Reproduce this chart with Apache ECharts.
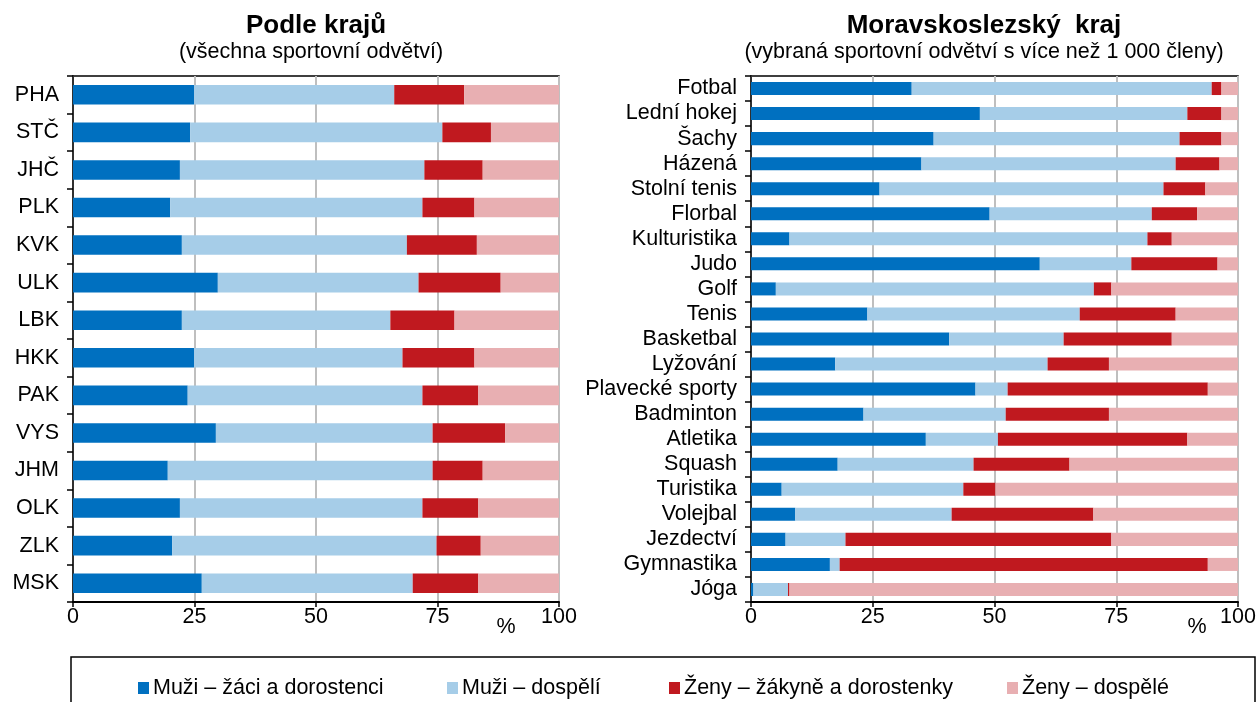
<!DOCTYPE html>
<html>
<head>
<meta charset="utf-8">
<script src="https://cdn.jsdelivr.net/npm/echarts@6/dist/echarts.min.js"></script>
<style>
  html, body { margin: 0; padding: 0; background: #fff; }
  #chart { width: 1260px; height: 702px; }
</style>
</head>
<body>
<div id="chart"></div>
<script>
// kraje (levý graf)
var kraje = ["PHA", "STČ", "JHČ", "PLK", "KVK", "ULK", "LBK", "HKK", "PAK", "VYS", "JHM", "OLK", "ZLK", "MSK"];
var krajMuziZaci = [24.9, 24.1, 22.0, 20.0, 22.4, 29.8, 22.4, 24.9, 23.6, 29.4, 19.5, 22.0, 20.4, 26.5];
var krajMuziDosp = [41.2, 51.9, 50.3, 51.9, 46.3, 41.3, 42.9, 42.9, 48.3, 44.6, 54.5, 49.9, 54.4, 43.4];
var krajZenyZac = [14.4, 10.0, 12.0, 10.7, 14.4, 16.9, 13.2, 14.8, 11.5, 14.9, 10.3, 11.5, 9.1, 13.5];
var krajZenyDosp = [19.5, 14.0, 15.7, 17.4, 16.9, 12.0, 21.5, 17.4, 16.6, 11.1, 15.7, 16.6, 16.1, 16.6];

// sporty MSK (pravý graf)
var sporty = ["Fotbal", "Lední hokej", "Šachy", "Házená", "Stolní tenis", "Florbal", "Kulturistika", "Judo", "Golf", "Tenis",
  "Basketbal", "Lyžování", "Plavecké sporty", "Badminton", "Atletika", "Squash", "Turistika", "Volejbal", "Jezdectví", "Gymnastika", "Jóga"];
var sportMuziZaci = [33.0, 47.0, 37.5, 35.0, 26.4, 49.0, 7.9, 59.3, 5.1, 23.9, 40.7, 17.3, 46.1, 23.1, 35.9, 17.8, 6.3, 9.1, 7.1, 16.2, 0.5];
var sportMuziDosp = [61.6, 42.6, 50.5, 52.2, 58.3, 33.3, 73.5, 18.8, 65.3, 43.6, 23.5, 43.6, 6.6, 29.2, 14.8, 27.9, 37.3, 32.1, 12.3, 2.0, 7.1];
var sportZenyZac = [2.0, 7.0, 8.6, 9.0, 8.6, 9.3, 5.0, 17.7, 3.6, 19.7, 22.2, 12.6, 41.1, 21.2, 38.9, 19.7, 6.6, 29.1, 54.6, 75.6, 0.3];
var sportZenyDosp = [3.4, 3.4, 3.4, 3.8, 6.7, 8.4, 13.6, 4.2, 26.0, 12.8, 13.6, 26.5, 6.2, 26.5, 10.4, 34.6, 49.8, 29.7, 26.0, 6.2, 92.1];

var nazvy = ["Muži – žáci a dorostenci", "Muži – dospělí", "Ženy – žákyně a dorostenky", "Ženy – dospělé"];
var barvy = ["#0070C0", "#A6CDE8", "#C0191F", "#E8AFB2"];
var xTicks = [0, 25, 50, 75, 100];

var chart = echarts.init(document.getElementById("chart"));
var FONT = "Liberation Sans, Arial, sans-serif";
var FS = 21.5;

function yAxis(idx, data) {
  return {
    type: "category",
    gridIndex: idx,
    data: data,
    inverse: true,
    axisLine: { lineStyle: { color: "#000", width: 1.5 } },
    axisTick: { show: true, length: 6, lineStyle: { color: "#000", width: 1.5 } },
    axisLabel: { color: "#000", fontSize: FS, fontFamily: FONT, margin: 14, interval: 0 },
  };
}
function xAxis(idx) {
  return {
    type: "value",
    gridIndex: idx,
    min: 0,
    max: 100,
    interval: 25,
    axisLine: { show: true, lineStyle: { color: "#000", width: 2 } },
    axisTick: { show: true, length: 5, lineStyle: { color: "#000", width: 1.5 } },
    axisLabel: {
      color: "#000", fontSize: FS, fontFamily: FONT, margin: 4,
      formatter: function (v) { return xTicks.indexOf(v) >= 0 ? String(v) : ""; }
    },
    splitLine: { show: true, lineStyle: { color: "#BFBFBF", width: 2 } },
  };
}

var leftData = [krajMuziZaci, krajMuziDosp, krajZenyZac, krajZenyDosp];
var rightData = [sportMuziZaci, sportMuziDosp, sportZenyZac, sportZenyDosp];
var series = [];
for (var i = 0; i < 4; i++) {
  series.push({
    name: nazvy[i], type: "bar", stack: "kraje", xAxisIndex: 0, yAxisIndex: 0,
    data: leftData[i], barCategoryGap: "48%", itemStyle: { color: barvy[i] }, silent: true,
  });
  series.push({
    name: nazvy[i], type: "bar", stack: "sporty", xAxisIndex: 1, yAxisIndex: 1,
    data: rightData[i], barCategoryGap: "48%", itemStyle: { color: barvy[i] }, silent: true,
  });
}

var legendLeft = [133, 442, 664, 1002];
var legends = nazvy.map(function (n, i) {
  return {
    data: [n], left: legendLeft[i], top: 672,
    icon: "rect", itemWidth: 11, itemHeight: 12, itemGap: 0,
    textStyle: { color: "#000", fontSize: FS, fontFamily: FONT, padding: [0, 0, 0, -1] },
    selectedMode: false,
  };
});

function txt(x, y, s, size, bold) {
  return {
    type: "text", x: x, y: y,
    style: { text: s, fill: "#000", font: (bold ? "bold " : "") + size + "px " + FONT, textAlign: "center", textVerticalAlign: "middle" },
  };
}

var option = {
  animation: false,
  backgroundColor: "#fff",
  grid: [
    { left: 73, right: 701, top: 76, bottom: 100, show: true, borderColor: "#000", borderWidth: 1.5 },
    { left: 751, right: 22, top: 76, bottom: 100, show: true, borderColor: "#000", borderWidth: 1.5 },
  ],
  xAxis: [xAxis(0), xAxis(1)],
  yAxis: [yAxis(0, kraje), yAxis(1, sporty)],
  legend: legends,
  series: series,
  graphic: [
    txt(316, 26, "Podle krajů", 26, true),
    txt(311, 52, "(všechna sportovní odvětví)", FS, false),
    txt(984, 26, "Moravskoslezský  kraj", 26, true),
    txt(984, 52, "(vybraná sportovní odvětví s více než 1 000 členy)", FS, false),
    txt(506, 627, "%", FS, false),
    txt(1197, 627, "%", FS, false),
    { type: "rect", shape: { x: 71, y: 657, width: 1184, height: 60 }, style: { fill: "none", stroke: "#000", lineWidth: 1.5 } },
  ],
};
option && chart.setOption(option);
</script>
</body>
</html>
